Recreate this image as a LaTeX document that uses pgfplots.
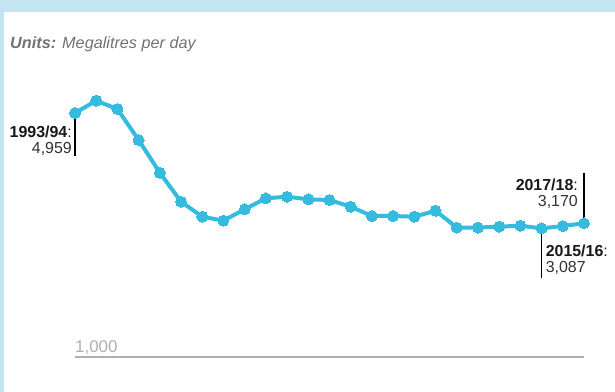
\documentclass[border=0pt]{standalone}
\usepackage{pgfplots}
\pgfplotsset{compat=1.18}
\usepackage{fontspec}
\setmainfont{Liberation Sans}
\definecolor{bgblue}{RGB}{196,228,242}
\definecolor{linecol}{RGB}{52,187,222}
\definecolor{unitgray}{RGB}{115,115,115}
\definecolor{axgray}{RGB}{175,175,175}
\definecolor{txt}{RGB}{25,25,25}
\definecolor{numtxt}{RGB}{50,50,50}
\begin{document}
\begin{tikzpicture}
\useasboundingbox (-75bp,-35bp) rectangle (540bp,357bp);
\fill[bgblue] (-75bp,-35bp) rectangle (540bp,357bp);
\fill[white] (-71bp,-35bp) rectangle (540bp,345bp);
\node[anchor=west,inner sep=0pt,text=unitgray,font=\fontsize{16.3}{18}\selectfont\itshape] at (-65bp,313bp) {\textbf{Units:} Megalitres per day};
\begin{axis}[scale only axis, width=509bp, height=265bp,
  xmin=0, xmax=24, ymin=1000, ymax=5300,
  axis lines=none, clip=false]
\draw[axgray, line width=1.5bp] (axis cs:0,1000) -- (axis cs:24,1000);
\node[anchor=south west, inner sep=0pt, text=axgray, font=\fontsize{17}{17}\selectfont] at ([yshift=2.5bp]axis cs:0,1000) {1,000};
\addplot[linecol, line width=4bp, mark=*, mark size=5.5bp, mark options={fill=linecol, draw=linecol, line width=0pt}] coordinates {
(0,4959) (1,5159) (2,5024) (3,4521) (4,3990) (5,3520) (6,3276) (7,3212)
(8,3397) (9,3575) (10,3601) (11,3559) (12,3547) (13,3439) (14,3288) (15,3288)
(16,3276) (17,3374) (18,3100) (19,3100) (20,3115) (21,3130) (22,3087) (23,3125) (24,3170)};
\draw[black, line width=1.2bp] (axis cs:0,4862) -- (axis cs:0,4261);
\node[anchor=east, align=right, inner sep=0pt, font=\fontsize{16}{16}\selectfont] at ([xshift=-3bp]axis cs:0,4508) {\textcolor{txt}{\textbf{1993/94}:}\\\textcolor{numtxt}{4,959}};
\draw[black, line width=1.2bp] (axis cs:24,3985) -- (axis cs:24,3195);
\node[anchor=east, align=right, inner sep=0pt, font=\fontsize{16}{16}\selectfont] at ([xshift=-6bp]axis cs:24,3656) {\textcolor{txt}{\textbf{2017/18}:}\\\textcolor{numtxt}{3,170}};
\draw[black, line width=1.2bp] (axis cs:22,3033) -- (axis cs:22,2277);
\node[anchor=west, align=left, inner sep=0pt, font=\fontsize{16}{16}\selectfont] at ([xshift=4bp]axis cs:22,2585) {\textcolor{txt}{\textbf{2015/16}:}\\\textcolor{numtxt}{3,087}};
\end{axis}
\end{tikzpicture}
\end{document}
